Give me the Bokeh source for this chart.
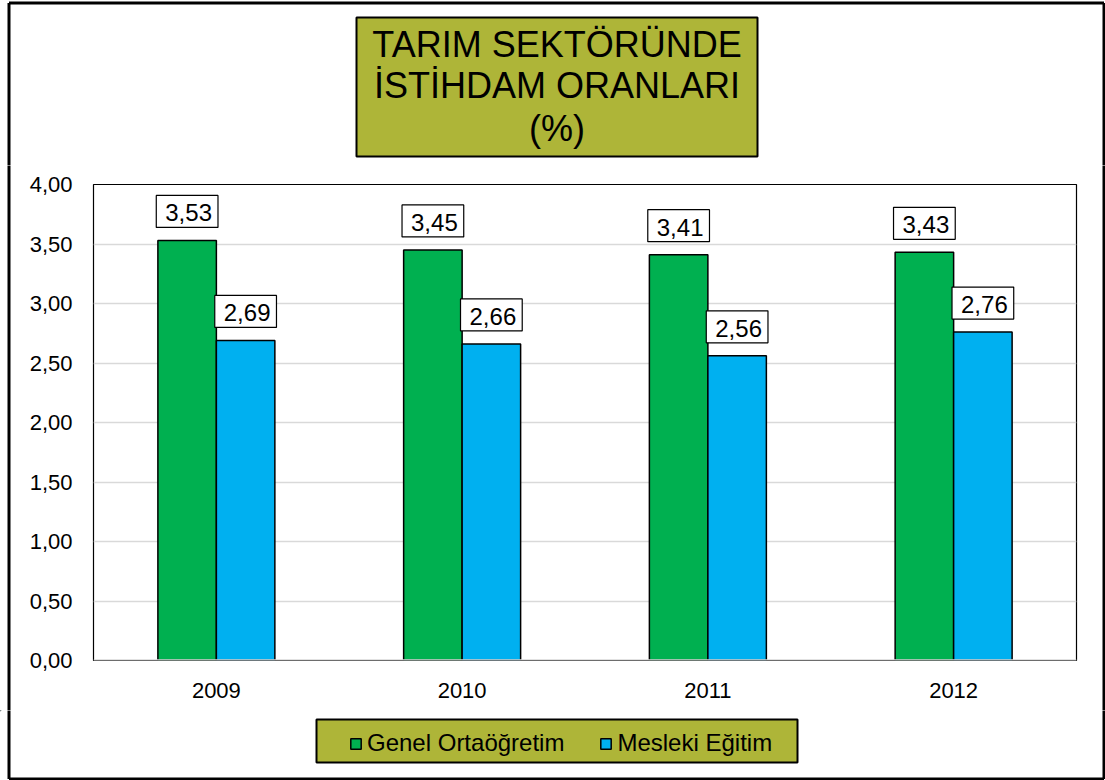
from bokeh.plotting import figure
from bokeh.layouts import column, row
from bokeh.models import (FactorRange, Range1d, FixedTicker, Label,
                          Legend, LegendItem, ColumnDataSource, Span)
from bokeh.transform import dodge
from bokeh.core.properties import value
from bokeh.embed import file_html
from bokeh.resources import INLINE

# ---- data ----
years = ["2009", "2010", "2011", "2012"]
genel = [3.53, 3.45, 3.41, 3.43]
mesleki = [2.69, 2.66, 2.56, 2.76]
series_names = ["Genel Ortaöğretim", "Mesleki Eğitim"]
y_ticks = [0.0, 0.5, 1.0, 1.5, 2.0, 2.5, 3.0, 3.5, 4.0]
y_tick_labels = ["0,00", "0,50", "1,00", "1,50", "2,00", "2,50", "3,00", "3,50", "4,00"]
title_lines = ["TARIM SEKTÖRÜNDE", "İSTİHDAM ORANLARI", "(%)"]

# ---- style ----
FONT = "Liberation Sans"
GREEN = "#00b050"
BLUE = "#00b0f0"
OLIVE = "#aeb538"
GRID = "#d9d9d9"

W, H = 1105, 780
MID_Y0, MID_Y1 = 165, 710          # page rows: title piece / chart / legend piece
STRIP_L, STRIP_R = 20, 1085        # page columns of the chart piece
FL, FT, FR, FB = 93, 184, 1076, 660   # plot frame in page px
BX0, BX1, BY0, BY1 = 8.5, 1103.5, 2.5, 778.5   # outer frame line


def canvas_fig(x0, x1, y0, y1):
    """A figure whose frame is its whole canvas, ranges in page pixels."""
    f = figure(width=x1 - x0, height=y1 - y0,
               x_range=Range1d(x0, x1), y_range=Range1d(y1, y0),
               x_axis_type=None, y_axis_type=None,
               output_backend="svg", toolbar_location=None, min_border=0)
    f.grid.visible = False
    f.outline_line_color = None
    f.background_fill_color = "white"
    f.border_fill_color = "white"
    # the chart's outer frame, clipped to this piece
    f.multi_line(xs=[[BX0, BX0], [BX1, BX1], [BX0, BX1], [BX0, BX1]],
                 ys=[[BY0, BY1], [BY0, BY1], [BY0, BY0], [BY1, BY1]],
                 line_color="black", line_width=3)
    return f


# ---------- title piece ----------
top = canvas_fig(0, W, 0, MID_Y0)
top.quad(left=356, right=757, top=17, bottom=156, fill_color=OLIVE,
         line_color="black", line_width=2)
for line, base in zip(title_lines, [44, 85, 128]):
    top.add_layout(Label(x=556.5, y=base, text=line, text_font=FONT,
                         text_font_size="36px", text_align="center",
                         text_baseline="alphabetic", text_color="black"))

# ---------- side strips ----------
left_strip = canvas_fig(0, STRIP_L, MID_Y0, MID_Y1)
right_strip = canvas_fig(STRIP_R, W, MID_Y0, MID_Y1)

# ---------- main chart ----------
src = ColumnDataSource(dict(
    years=years, genel=genel, mesleki=mesleki,
    genel_txt=[f"{v:.2f}".replace(".", ",") for v in genel],
    mesleki_txt=[f"{v:.2f}".replace(".", ",") for v in mesleki],
))

p = figure(x_range=FactorRange(*years), y_range=Range1d(0, 4),
           width=STRIP_R - STRIP_L, height=MID_Y1 - MID_Y0,
           output_backend="svg", toolbar_location=None,
           min_border_left=FL - STRIP_L, min_border_right=STRIP_R - FR,
           min_border_top=FT - MID_Y0, min_border_bottom=MID_Y1 - FB)
p.outline_line_color = "black"
p.outline_line_width = 1.2
p.background_fill_color = "white"
p.border_fill_color = "white"

BW = 0.238
OFF = 0.119
r1 = p.vbar(x=dodge("years", -OFF, range=p.x_range), top="genel", width=BW, source=src,
            fill_color=GREEN, line_color="black", line_width=1.5)
r2 = p.vbar(x=dodge("years", OFF, range=p.x_range), top="mesleki", width=BW, source=src,
            fill_color=BLUE, line_color="black", line_width=1.5)

lab_kw = dict(text_font=value(FONT), text_font_size="24px", text_align="center",
              text_baseline="bottom", text_color="black",
              background_fill_color="white", border_line_color="black",
              border_line_width=1.2, padding=(9, 6, 9, 6), y_offset=-13)
p.text(x=dodge("years", -OFF, range=p.x_range), y="genel", text="genel_txt", source=src, **lab_kw)
p.text(x=dodge("years", OFF, range=p.x_range), y="mesleki", text="mesleki_txt", source=src, **lab_kw)

p.yaxis.ticker = FixedTicker(ticks=y_ticks)
p.yaxis.major_label_overrides = {t: l for t, l in zip(y_ticks, y_tick_labels)}
p.yaxis.axis_line_color = None
p.yaxis.major_tick_line_color = None
p.yaxis.minor_tick_line_color = None
p.yaxis.major_tick_out = 0
p.yaxis.major_tick_in = 0
p.yaxis.major_label_standoff = 21
p.yaxis.major_label_text_font = FONT
p.yaxis.major_label_text_font_size = "22px"
p.yaxis.major_label_text_color = "black"

p.xaxis.axis_line_color = None
p.xaxis.major_tick_line_color = None
p.xaxis.minor_tick_line_color = None
p.xaxis.major_label_standoff = 16
p.xaxis.major_label_text_font = FONT
p.xaxis.major_label_text_font_size = "22px"
p.xaxis.major_label_text_color = "black"

p.xgrid.grid_line_color = None
p.ygrid.grid_line_color = GRID
p.ygrid.grid_line_width = 1.5
p.ygrid.ticker = FixedTicker(ticks=y_ticks)

p.add_layout(Span(location=0, dimension="width", line_color=GRID, line_width=2.5))

# ---------- legend piece ----------
bottom = canvas_fig(0, W, MID_Y1, H)
bottom.quad(left=316, right=797, top=719, bottom=762, fill_color=OLIVE,
            line_color="black", line_width=2)
# legend keys: renderers styled like the bars, with one point placed out of view
k1 = bottom.vbar(x=[-50], top=[-50], bottom=[-60], width=1,
                 fill_color=GREEN, line_color="black", line_width=1.5)
k2 = bottom.vbar(x=[-50], top=[-50], bottom=[-60], width=1,
                 fill_color=BLUE, line_color="black", line_width=1.5)
legend = Legend(items=[LegendItem(label=series_names[0], renderers=[k1]),
                       LegendItem(label=series_names[1], renderers=[k2])],
                location=(349, H - 757), orientation="horizontal",
                padding=6, margin=0, spacing=35, glyph_width=13, glyph_height=13,
                label_standoff=5, label_text_font=FONT, label_text_font_size="24px",
                label_text_color="black", border_line_color=None,
                background_fill_alpha=0)
bottom.add_layout(legend, "center")

# strips wrapped in their own columns so the row does not line up their frames with p's
layout = column(top,
                row(column(left_strip), p, column(right_strip), spacing=0),
                bottom, spacing=0)

open("out.html", "w").write(file_html(layout, INLINE))
